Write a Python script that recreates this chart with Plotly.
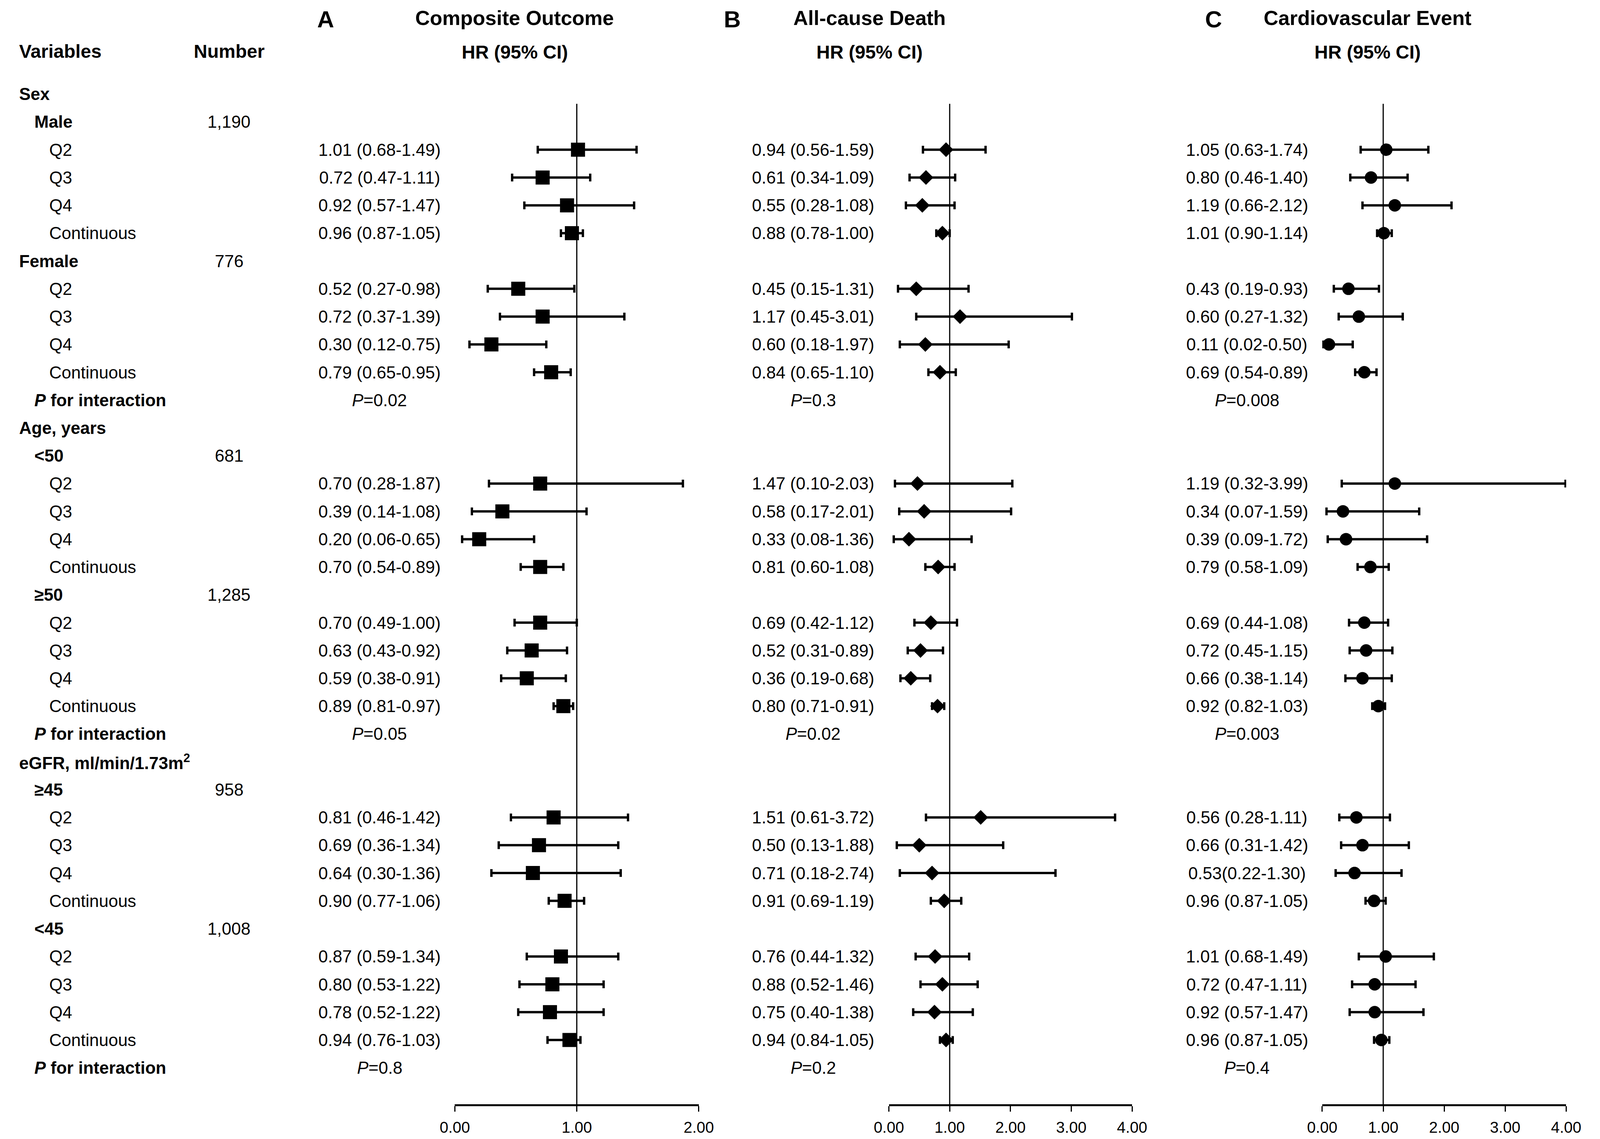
import numpy as np
import plotly.graph_objects as go

# rows counted from the top, "Sex" = 0
row_labels = ["Sex", "Male", "Q2", "Q3", "Q4", "Continuous",
              "Female", "Q2", "Q3", "Q4", "Continuous", "<i>P</i> for interaction",
              "Age, years", "&lt;50", "Q2", "Q3", "Q4", "Continuous",
              "≥50", "Q2", "Q3", "Q4", "Continuous", "<i>P</i> for interaction",
              "eGFR, ml/min/1.73m<sup>2</sup>", "≥45", "Q2", "Q3", "Q4", "Continuous",
              "&lt;45", "Q2", "Q3", "Q4", "Continuous", "<i>P</i> for interaction"]
row_levels = [0, 1, 2, 2, 2, 2,
              0, 2, 2, 2, 2, 1,
              0, 1, 2, 2, 2, 2,
              1, 2, 2, 2, 2, 1,
              0, 1, 2, 2, 2, 2,
              1, 2, 2, 2, 2, 1]
n_rows = [1, 6, 13, 18, 25, 30]
n_text = ["1,190", "776", "681", "1,285", "958", "1,008"]
q_rows = [2, 3, 4, 5, 7, 8, 9, 10, 14, 15, 16, 17,
          19, 20, 21, 22, 26, 27, 28, 29, 31, 32, 33, 34]
p_rows = [11, 23, 35]

# A  Composite Outcome
a_hr = [1.01, 0.72, 0.92, 0.96, 0.52, 0.72, 0.30, 0.79, 0.70, 0.39, 0.20, 0.70,
        0.70, 0.63, 0.59, 0.89, 0.81, 0.69, 0.64, 0.90, 0.87, 0.80, 0.78, 0.94]
a_lo = [0.68, 0.47, 0.57, 0.87, 0.27, 0.37, 0.12, 0.65, 0.28, 0.14, 0.06, 0.54,
        0.49, 0.43, 0.38, 0.81, 0.46, 0.36, 0.30, 0.77, 0.59, 0.53, 0.52, 0.76]
a_hi = [1.49, 1.11, 1.47, 1.05, 0.98, 1.39, 0.75, 0.95, 1.87, 1.08, 0.65, 0.89,
        1.00, 0.92, 0.91, 0.97, 1.42, 1.34, 1.36, 1.06, 1.34, 1.22, 1.22, 1.03]
a_txt = ["1.01 (0.68-1.49)", "0.72 (0.47-1.11)", "0.92 (0.57-1.47)", "0.96 (0.87-1.05)",
         "0.52 (0.27-0.98)", "0.72 (0.37-1.39)", "0.30 (0.12-0.75)", "0.79 (0.65-0.95)",
         "0.70 (0.28-1.87)", "0.39 (0.14-1.08)", "0.20 (0.06-0.65)", "0.70 (0.54-0.89)",
         "0.70 (0.49-1.00)", "0.63 (0.43-0.92)", "0.59 (0.38-0.91)", "0.89 (0.81-0.97)",
         "0.81 (0.46-1.42)", "0.69 (0.36-1.34)", "0.64 (0.30-1.36)", "0.90 (0.77-1.06)",
         "0.87 (0.59-1.34)", "0.80 (0.53-1.22)", "0.78 (0.52-1.22)", "0.94 (0.76-1.03)"]
a_p = ["0.02", "0.05", "0.8"]

# B  All-cause Death
b_hr = [0.94, 0.61, 0.55, 0.88, 0.45, 1.17, 0.60, 0.84, 0.47, 0.58, 0.33, 0.81,
        0.69, 0.52, 0.36, 0.80, 1.51, 0.50, 0.71, 0.91, 0.76, 0.88, 0.75, 0.94]
b_lo = [0.56, 0.34, 0.28, 0.78, 0.15, 0.45, 0.18, 0.65, 0.10, 0.17, 0.08, 0.60,
        0.42, 0.31, 0.19, 0.71, 0.61, 0.13, 0.18, 0.69, 0.44, 0.52, 0.40, 0.84]
b_hi = [1.59, 1.09, 1.08, 1.00, 1.31, 3.01, 1.97, 1.10, 2.03, 2.01, 1.36, 1.08,
        1.12, 0.89, 0.68, 0.91, 3.72, 1.88, 2.74, 1.19, 1.32, 1.46, 1.38, 1.05]
b_txt = ["0.94 (0.56-1.59)", "0.61 (0.34-1.09)", "0.55 (0.28-1.08)", "0.88 (0.78-1.00)",
         "0.45 (0.15-1.31)", "1.17 (0.45-3.01)", "0.60 (0.18-1.97)", "0.84 (0.65-1.10)",
         "1.47 (0.10-2.03)", "0.58 (0.17-2.01)", "0.33 (0.08-1.36)", "0.81 (0.60-1.08)",
         "0.69 (0.42-1.12)", "0.52 (0.31-0.89)", "0.36 (0.19-0.68)", "0.80 (0.71-0.91)",
         "1.51 (0.61-3.72)", "0.50 (0.13-1.88)", "0.71 (0.18-2.74)", "0.91 (0.69-1.19)",
         "0.76 (0.44-1.32)", "0.88 (0.52-1.46)", "0.75 (0.40-1.38)", "0.94 (0.84-1.05)"]
b_p = ["0.3", "0.02", "0.2"]

# C  Cardiovascular Event
c_hr = [1.05, 0.80, 1.19, 1.01, 0.43, 0.60, 0.11, 0.69, 1.19, 0.34, 0.39, 0.79,
        0.69, 0.72, 0.66, 0.92, 0.56, 0.66, 0.53, 0.85, 1.04, 0.86, 0.86, 0.97]
c_lo = [0.63, 0.46, 0.66, 0.90, 0.19, 0.27, 0.02, 0.54, 0.32, 0.07, 0.09, 0.58,
        0.44, 0.45, 0.38, 0.82, 0.28, 0.31, 0.22, 0.71, 0.60, 0.49, 0.45, 0.85]
c_hi = [1.74, 1.40, 2.12, 1.14, 0.93, 1.32, 0.50, 0.89, 3.99, 1.59, 1.72, 1.09,
        1.08, 1.15, 1.14, 1.03, 1.11, 1.42, 1.30, 1.04, 1.83, 1.53, 1.66, 1.10]
c_txt = ["1.05 (0.63-1.74)", "0.80 (0.46-1.40)", "1.19 (0.66-2.12)", "1.01 (0.90-1.14)",
         "0.43 (0.19-0.93)", "0.60 (0.27-1.32)", "0.11 (0.02-0.50)", "0.69 (0.54-0.89)",
         "1.19 (0.32-3.99)", "0.34 (0.07-1.59)", "0.39 (0.09-1.72)", "0.79 (0.58-1.09)",
         "0.69 (0.44-1.08)", "0.72 (0.45-1.15)", "0.66 (0.38-1.14)", "0.92 (0.82-1.03)",
         "0.56 (0.28-1.11)", "0.66 (0.31-1.42)", "0.53(0.22-1.30)", "0.96 (0.87-1.05)",
         "1.01 (0.68-1.49)", "0.72 (0.47-1.11)", "0.92 (0.57-1.47)", "0.96 (0.87-1.05)"]
c_p = ["0.008", "0.003", "0.4"]

# the photographed page is only ~4096px wide, so reference x positions are
# squeezed by K; the body keeps its default 8px margin
PAGE_W = 4096
K = PAGE_W / 4317
FW, FH, OFF = PAGE_W - 16, 2900, 8
ROW0, ROWH = 241, 71.3
AXIS_Y = 2830
FONT = "Arial, Liberation Sans, sans-serif"


def px(x):
    # reference x pixel -> paper fraction
    return (x * K - OFF) / FW


def row_of(y):
    # reference y pixel -> row coordinate
    return (y - ROW0) / ROWH


axis_row = row_of(AXIS_Y)

panels = [
    dict(ax="x", hr=a_hr, lo=a_lo, hi=a_hi, txt=a_txt, p=a_p, sym="square", size=36,
         dom=(1209, 1880), rng=[0, 2], ticks=[0, 1, 2], col=1002, head=1374, letter=853,
         name="A", title="Composite Outcome"),
    dict(ax="x2", hr=b_hr, lo=b_lo, hi=b_hi, txt=b_txt, p=b_p, sym="diamond", size=29,
         dom=(2403, 3072), rng=[0, 4], ticks=[0, 1, 2, 3, 4], col=2195, head=2350, letter=1972,
         name="B", title="All-cause Death"),
    dict(ax="x3", hr=c_hr, lo=c_lo, hi=c_hi, txt=c_txt, p=c_p, sym="circle", size=32,
         dom=(3595, 4266), rng=[0, 4], ticks=[0, 1, 2, 3, 4], col=3388, head=3720, letter=3296,
         name="C", title="Cardiovascular Event"),
]

fig = go.Figure()
annots = []


def label(x, row, text, size=44, bold=False, anchor="left"):
    if bold:
        text = "<b>" + text + "</b>"
    annots.append(dict(x=px(x), xref="paper", y=row, yref="y", text=text,
                       showarrow=False, xanchor=anchor, yanchor="middle",
                       font=dict(family=FONT, size=size, color="black")))


for p in panels:
    hr = np.array(p["hr"])
    fig.add_trace(go.Scatter(
        x=hr, y=q_rows, xaxis=p["ax"], yaxis="y", mode="markers",
        marker=dict(symbol=p["sym"], size=p["size"], color="black"),
        error_x=dict(type="data", symmetric=False,
                     array=np.array(p["hi"]) - hr, arrayminus=hr - np.array(p["lo"]),
                     color="black", thickness=6, width=10),
        cliponaxis=False, showlegend=False, hoverinfo="skip"))
    # reference line at HR = 1
    fig.add_shape(type="line", xref=p["ax"], yref="y", x0=1, x1=1, y0=0.35, y1=axis_row,
                  line=dict(color="black", width=3), layer="below")
    for r, t in zip(q_rows, p["txt"]):
        label(p["col"], r, t, anchor="center")
    for r, t in zip(p_rows, p["p"]):
        label(p["col"], r, "<i>P</i>=" + t, anchor="center")
    label(p["head"], row_of(134), "HR (95% CI)", size=48, bold=True, anchor="center")
    label(p["head"], row_of(46), p["title"], size=52, bold=True, anchor="center")
    label(p["letter"], row_of(50), p["name"], size=60, bold=True, anchor="center")

# left-hand columns
indent = {0: 8, 1: 50, 2: 91}
for r, (t, lv) in enumerate(zip(row_labels, row_levels)):
    label(indent[lv], r, t, bold=(lv < 2))
for r, t in zip(n_rows, n_text):
    label(588, r, t, anchor="center")
label(8, row_of(132), "Variables", size=48, bold=True)
label(588, row_of(132), "Number", size=48, bold=True, anchor="center")

axis_style = dict(showline=True, linecolor="black", linewidth=5, ticks="outside",
                  ticklen=14, tickwidth=3, tickcolor="black", tickformat=".2f",
                  showgrid=False, zeroline=False, anchor="y", fixedrange=True,
                  ticklabelstandoff=6,
                  tickfont=dict(family=FONT, size=40, color="black"))
layout_axes = {}
for i, p in enumerate(panels):
    key = "xaxis" if i == 0 else "xaxis%d" % (i + 1)
    layout_axes[key] = dict(axis_style, domain=[px(p["dom"][0]), px(p["dom"][1])],
                            range=p["rng"], tickvals=p["ticks"])

fig.update_layout(
    width=FW, height=FH, autosize=False,
    margin=dict(l=0, r=0, t=0, b=0),
    paper_bgcolor="white", plot_bgcolor="white",
    yaxis=dict(domain=[(OFF + FH - AXIS_Y) / FH, 1], range=[axis_row, row_of(OFF)],
               visible=False, fixedrange=True),
    annotations=annots,
    **layout_axes,
)

fig.write_html("out.html")
